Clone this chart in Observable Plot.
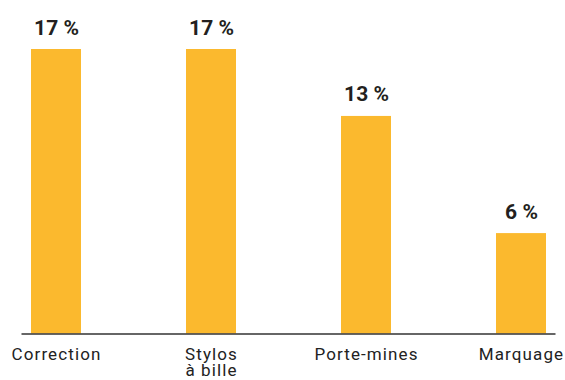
<!DOCTYPE html>
<html><head><meta charset="utf-8">
<script src="https://cdn.jsdelivr.net/npm/d3@7"></script>
<script src="https://cdn.jsdelivr.net/npm/@observablehq/plot@0.6"></script>
<style>
body{margin:0;background:#fff}
svg g[aria-label="x-axis tick label"] text{letter-spacing:1.1px}
</style>
</head><body><div id="chart"></div>
<script>
const categories = ["Correction", "Stylos\nà bille", "Porte-mines", "Marquage"];
const values = [17, 17, 13, 6];
const valueLabels = ["17 %", "17 %", "13 %", "6 %"];
const data = categories.map((c, i) => ({category: c, value: values[i], label: valueLabels[i]}));
const chart = Plot.plot({
  width: 565, height: 380,
  marginTop: 49, marginBottom: 46.5, marginLeft: 21.5, marginRight: 9.5,
  style: {fontFamily: "Roboto", background: "#fff"},
  x: {domain: categories, paddingInner: 0.68, paddingOuter: 0.055, label: null},
  y: {domain: [0, 17], axis: null},
  marks: [
    Plot.barY(data, {x: "category", y: "value", fill: "#FBB92E"}),
    Plot.ruleY([0], {stroke: "#333", strokeWidth: 1.5}),
    Plot.text(data, {x: "category", y: "value", text: "label", dy: -15, lineAnchor: "bottom", fontSize: 21, fontWeight: "bold", fill: "#231f20"}),
    Plot.axisX({tickSize: 0, tickPadding: 15, fontSize: 17, lineHeight: 0.93, fill: "#222", label: null})
  ]
});
document.getElementById("chart").append(chart);
</script>
</body></html>
